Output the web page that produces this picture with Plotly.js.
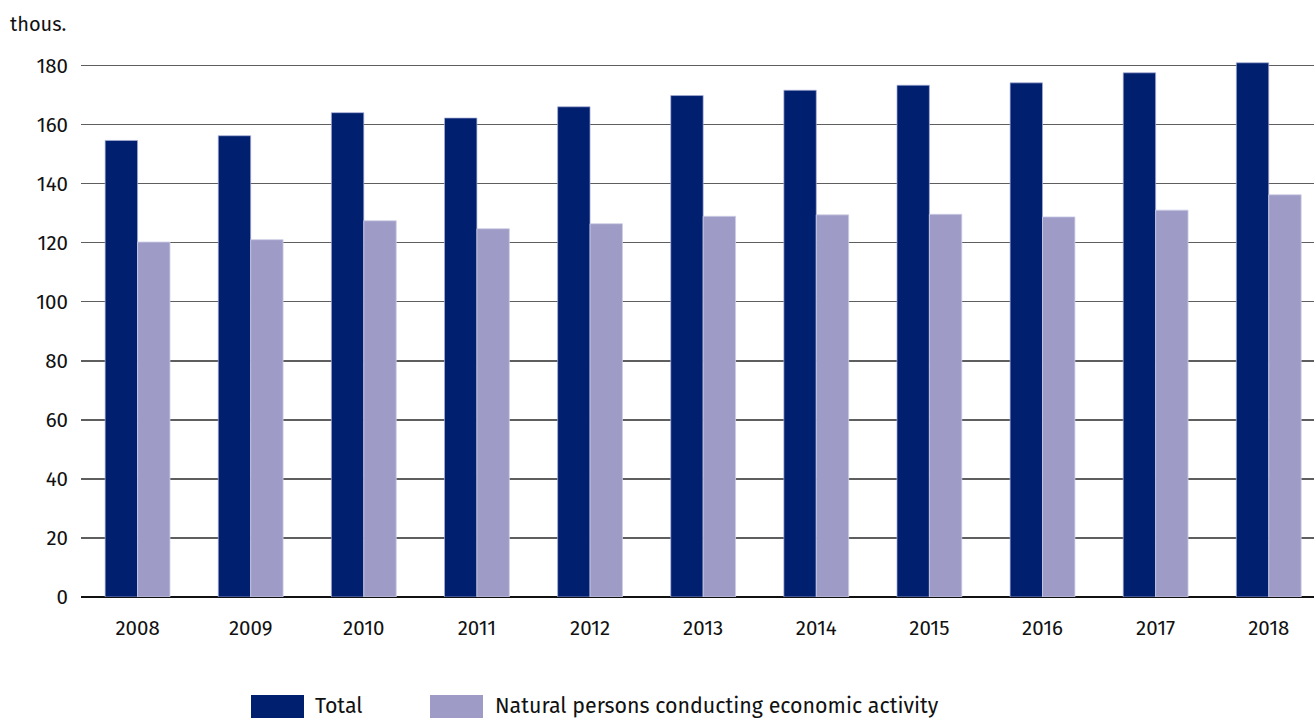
<!DOCTYPE html>
<html>
<head>
<meta charset="utf-8">
<script src="https://cdn.plot.ly/plotly-3.0.1.min.js"></script>
<style>
html, body { margin: 0; padding: 0; background: #fff; overflow: hidden; }
#chart { width: 1314px; height: 718px; }
</style>
</head>
<body>
<div id="chart"></div>
<script>
const years = ['2008','2009','2010','2011','2012','2013','2014','2015','2016','2017','2018'];
const totalValues = [154.6, 156.2, 164.0, 162.2, 166.0, 169.8, 171.6, 173.3, 174.1, 177.5, 180.9];
const naturalValues = [120.2, 121.0, 127.4, 124.7, 126.4, 128.9, 129.4, 129.6, 128.7, 131.0, 136.2];
const seriesNames = ['Total', 'Natural persons conducting economic activity'];
const yTicks = [0, 20, 40, 60, 80, 100, 120, 140, 160, 180];
const unitLabel = 'thous.';

const FONT = '"Fira Sans", "Noto Sans", "Open Sans", sans-serif';
const DARK = '#00206f';
const LIGHT = '#9e9bc6';

const W = 1314, H = 718;
const yMax = 181.5;
const pxPerUnit = 532 / 180;
const mL = 81, mR = 0, mB = 121;
const mT = H - mB - yMax * pxPerUnit;
const pw = W - mL - mR, ph = H - mT - mB;
const px = x => (x - mL) / pw;
const py = y => (H - mB - y) / ph;

const traces = [
  { type: 'bar', name: seriesNames[0], x: years, y: totalValues,
    marker: { color: DARK, line: { color: 'rgba(170,175,215,0.7)', width: 1 } },
    showlegend: false, hoverinfo: 'x+y' },
  { type: 'bar', name: seriesNames[1], x: years, y: naturalValues,
    marker: { color: LIGHT, line: { color: 'rgba(205,205,230,0.8)', width: 1 } },
    showlegend: false, hoverinfo: 'x+y' }
];

const legendItems = [
  { x0: 251, x1: 304, tx: 313, color: DARK, name: seriesNames[0] },
  { x0: 430, x1: 483, tx: 493, color: LIGHT, name: seriesNames[1] }
];

const shapes = legendItems.map(it => ({
  type: 'rect', xref: 'paper', yref: 'paper',
  x0: px(it.x0), x1: px(it.x1), y0: py(695), y1: py(718),
  fillcolor: it.color, line: { width: 0 }
}));

const annotations = legendItems.map(it => ({
  xref: 'paper', yref: 'paper', x: px(it.tx), y: py(706),
  xanchor: 'left', yanchor: 'middle', showarrow: false,
  text: it.name, font: { family: FONT, size: 21.4, color: '#111' }
}));
annotations.push({
  xref: 'paper', yref: 'paper', x: px(8), y: py(24),
  xanchor: 'left', yanchor: 'middle', showarrow: false,
  text: unitLabel, font: { family: FONT, size: 20, color: '#111' }
});

const layout = {
  width: W, height: H,
  margin: { l: mL, r: mR, t: mT, b: mB, pad: 0 },
  paper_bgcolor: '#fff', plot_bgcolor: '#fff',
  barmode: 'group', bargap: 0.427, bargroupgap: 0,
  font: { family: FONT, size: 20, color: '#111' },
  showlegend: false,
  xaxis: {
    type: 'category', range: [-0.5, 10.4],
    showgrid: false, zeroline: false, showline: false,
    ticks: '', ticklabelstandoff: 16,
    tickfont: { family: FONT, size: 20.5, color: '#111' },
    fixedrange: true
  },
  yaxis: {
    range: [0, yMax], tickvals: yTicks, ticktext: yTicks.map(String),
    showgrid: true, gridcolor: '#5e5e5e', gridwidth: 1.5,
    zeroline: true, zerolinecolor: '#111', zerolinewidth: 2,
    showline: false, ticks: '', ticklabelstandoff: 12,
    tickfont: { family: FONT, size: 20.5, color: '#111' },
    fixedrange: true
  },
  shapes: shapes,
  annotations: annotations
};

Plotly.newPlot('chart', traces, layout, { displayModeBar: false, staticPlot: true });
</script>
</body>
</html>
